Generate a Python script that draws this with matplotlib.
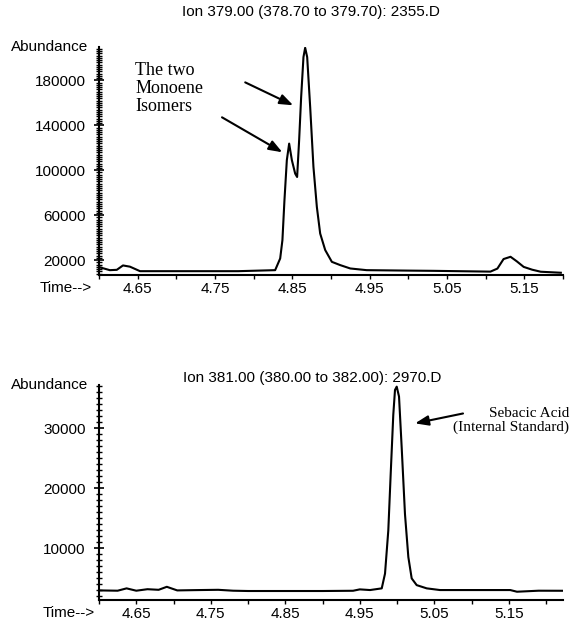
import numpy as np
import matplotlib
matplotlib.use('Agg')
import matplotlib.pyplot as plt
from matplotlib.ticker import MultipleLocator, FixedLocator

# ion 379 trace (time in min, abundance)
time_379 = [4.600, 4.614, 4.623, 4.631, 4.640, 4.653, 4.700, 4.780, 4.8277,
            4.8342, 4.8371, 4.8397, 4.8428, 4.8458, 4.8493, 4.8536, 4.8561,
            4.8587, 4.8613, 4.8643, 4.8665, 4.8691, 4.8730, 4.8772, 4.8816,
            4.8859, 4.8924, 4.9010, 4.9118, 4.9248, 4.946, 5.000, 5.032,
            5.106, 5.115, 5.123, 5.132, 5.140, 5.149, 5.160, 5.171, 5.197]
abund_379 = [13800, 11100, 11400, 15300, 14200, 10200, 10200, 10200, 11100,
             21500, 37800, 73000, 109000, 123700, 109000, 97000, 94000,
             126700, 165000, 200700, 209000, 200700, 156000, 103000, 67400,
             43700, 29000, 18500, 15600, 12600, 11100, 10700, 10500,
             9800, 12500, 21000, 23000, 19000, 14000, 11500, 9700, 8800]

# ion 381 trace
time_381 = [4.600, 4.625, 4.637, 4.650, 4.665, 4.680, 4.691, 4.705, 4.730,
            4.760, 4.780, 4.800, 4.900, 4.941, 4.950, 4.9638, 4.9795, 4.9839,
            4.9883, 4.9915, 4.9950, 4.9973, 4.9996, 5.0027, 5.0063, 5.0107,
            5.0152, 5.0197, 5.0264, 5.0399, 5.0577, 5.100, 5.152, 5.161,
            5.190, 5.223]
abund_381 = [3000, 2950, 3340, 2950, 3200, 3100, 3600, 3000, 3050,
             3100, 2950, 2900, 2900, 2940, 3170, 3060, 3340, 5800,
             12970, 22350, 32270, 36400, 36950, 35300, 26750, 15700,
             8560, 5000, 3880, 3340, 3060, 3060, 3060, 2780,
             2950, 2940]

top_title = 'Ion 379.00 (378.70 to 379.70): 2355.D'
bot_title = 'Ion 381.00 (380.00 to 382.00): 2970.D'
top_yticks = [20000, 60000, 100000, 140000, 180000]
bot_yticks = [10000, 20000, 30000]
xlabels = [4.65, 4.75, 4.85, 4.95, 5.05, 5.15]

plt.rcParams['font.family'] = ['Liberation Sans', 'DejaVu Sans']
plt.rcParams['font.size'] = 11

fig = plt.figure(figsize=(5.73, 6.21), dpi=100)
ax1 = fig.add_axes([0.1728, 0.557, 0.810, 0.367])
ax2 = fig.add_axes([0.1728, 0.0338, 0.810, 0.346])


def style(ax, yticks, yminor):
    for s in ['top', 'right']:
        ax.spines[s].set_visible(False)
    for s in ['left', 'bottom']:
        ax.spines[s].set_linewidth(1.5)
    ax.xaxis.set_major_locator(FixedLocator(xlabels))
    ax.set_xticklabels(['%.2f' % v for v in xlabels])
    ax.xaxis.set_minor_locator(MultipleLocator(0.05))
    ax.set_yticks(yticks)
    ax.set_yticklabels([str(v) for v in yticks])
    ax.yaxis.set_minor_locator(MultipleLocator(yminor))
    ax.tick_params(axis='x', which='both', direction='out', length=3,
                   width=1, pad=2, labelsize=11)
    ax.tick_params(axis='y', which='major', direction='inout', length=7,
                   width=1.2, pad=6, labelsize=11)
    ax.tick_params(axis='y', which='minor', direction='inout', length=5,
                   width=1)
    ax.text(-0.024, 1.0, 'Abundance', transform=ax.transAxes,
            ha='right', va='center', fontsize=11)


ax1.plot(time_379, abund_379, color='black', lw=1.5)
ax1.set_xlim(4.60, 5.20)
ax1.set_ylim(6700, 209500)
style(ax1, top_yticks, 2000)
ax1.text(-0.015, -0.057, 'Time-->', transform=ax1.transAxes,
         ha='right', va='center', fontsize=11)
ax1.text(0.457, 1.153, top_title, transform=ax1.transAxes,
         ha='center', va='center', fontsize=11)

ax1.text(4.6466, 196000, 'The two\nMonoene\nIsomers', ha='left', va='top',
         family=['Liberation Serif', 'DejaVu Serif'], fontsize=13,
         linespacing=1.05)
arrow = dict(arrowstyle='-|>,head_length=0.8,head_width=0.3', color='black',
             lw=1.5, mutation_scale=10, shrinkA=0, shrinkB=0)
ax1.annotate('', xy=(4.851, 157800), xytext=(4.789, 178200),
             arrowprops=arrow)
ax1.annotate('', xy=(4.837, 116000), xytext=(4.759, 147100),
             arrowprops=arrow)

ax2.plot(time_381, abund_381, color='black', lw=1.5)
ax2.set_xlim(4.60, 5.223)
ax2.set_ylim(1400, 37200)
style(ax2, bot_yticks, 1000)
ax2.text(-0.01, -0.06, 'Time-->', transform=ax2.transAxes,
         ha='right', va='center', fontsize=11)
ax2.text(0.46, 1.033, bot_title, transform=ax2.transAxes,
         ha='center', va='center', fontsize=11)
ax2.annotate('', xy=(5.0242, 30830), xytext=(5.0886, 32480),
             arrowprops=arrow)
ax2.text(1.013, 0.835, 'Sebacic Acid\n(Internal Standard)',
         transform=ax2.transAxes, ha='right', va='center', ma='right',
         family=['Liberation Serif', 'DejaVu Serif'], fontsize=11,
         linespacing=1.1)

fig.savefig('out.png', dpi=100)
